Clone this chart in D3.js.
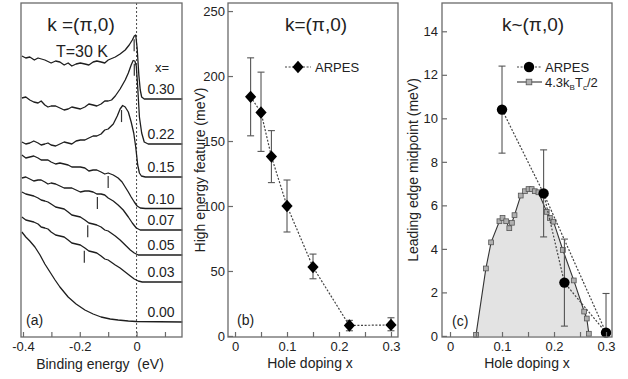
<!DOCTYPE html>
<html><head><meta charset="utf-8">
<script src="https://cdn.jsdelivr.net/npm/d3@7"></script>
<style>
body{margin:0;background:#fff;}
svg{display:block;font-family:"Liberation Sans",Arial,sans-serif;}
text{fill:#222;}
</style></head>
<body><svg id="c" width="628" height="379"></svg>
<script>
// ---------- Panel (a): EDC spectra, [binding energy (eV), intensity (arb., offset)] ----------
const dopingLabels = ["0.30","0.22","0.15","0.10","0.07","0.05","0.03","0.00"];
const edc030 = [[-0.404,281],[-0.39,279],[-0.376,280],[-0.36,277],[-0.347,279],[-0.323,277],[-0.301,274],[-0.285,276],[-0.270,275],[-0.255,272],[-0.241,274],[-0.228,271],[-0.213,273],[-0.198,274],[-0.182,273],[-0.168,272],[-0.153,275],[-0.140,276],[-0.125,275],[-0.112,274],[-0.100,277],[-0.075,280],[-0.058,283],[-0.040,287],[-0.026,292],[-0.015,297],[-0.008,301],[-0.003,302],[0.002,289],[0.008,262],[0.013,247],[0.018,240],[0.027,238],[0.161,238]];
const edc022 = [[-0.404,239],[-0.39,240],[-0.376,237],[-0.362,235],[-0.347,234],[-0.336,236],[-0.323,232],[-0.312,230],[-0.301,231],[-0.285,231],[-0.270,229],[-0.255,227],[-0.241,228],[-0.228,230],[-0.213,229],[-0.198,228],[-0.182,230],[-0.168,233],[-0.153,232],[-0.140,231],[-0.125,233],[-0.112,236],[-0.100,236],[-0.088,237],[-0.075,241],[-0.058,248],[-0.040,257],[-0.029,264],[-0.019,272],[-0.012,276.5],[-0.006,276],[-0.001,271],[0.004,250],[0.010,220],[0.018,204],[0.027,195],[0.041,193],[0.161,193]];
const edc015 = [[-0.404,195],[-0.39,193],[-0.376,194],[-0.362,196],[-0.347,194],[-0.336,192],[-0.323,193],[-0.312,194],[-0.301,192],[-0.285,191],[-0.270,193],[-0.255,195],[-0.241,194],[-0.228,193],[-0.213,196],[-0.198,197],[-0.182,197],[-0.168,199],[-0.153,201],[-0.140,201],[-0.125,203],[-0.112,207],[-0.100,208],[-0.082,213],[-0.068,221],[-0.058,228],[-0.049,231.5],[-0.040,230],[-0.029,225],[-0.019,215],[-0.010,204],[-0.003,190],[0.004,172],[0.010,164],[0.017,161],[0.031,160],[0.161,160]];
const edc010 = [[-0.404,182],[-0.39,179],[-0.376,180],[-0.362,181],[-0.347,179],[-0.336,177],[-0.323,177],[-0.312,177],[-0.301,175],[-0.285,173],[-0.270,174],[-0.255,173],[-0.241,172],[-0.228,170],[-0.213,170],[-0.198,170],[-0.182,169],[-0.168,166],[-0.153,167],[-0.140,167],[-0.125,165],[-0.112,163],[-0.100,164],[-0.082,162],[-0.065,159],[-0.051,155],[-0.040,150],[-0.029,145],[-0.019,140],[-0.008,135],[0.002,131],[0.013,129],[0.031,128.5],[0.161,128.5]];
const edc007 = [[-0.404,159],[-0.39,160],[-0.376,158],[-0.362,156],[-0.347,157],[-0.336,157],[-0.323,155],[-0.312,153],[-0.301,154],[-0.285,153],[-0.270,151],[-0.255,149],[-0.241,149],[-0.228,149],[-0.213,147],[-0.198,145],[-0.182,146],[-0.168,146],[-0.153,145],[-0.140,143],[-0.125,143],[-0.112,142],[-0.100,139],[-0.082,136],[-0.065,132],[-0.047,127],[-0.029,120],[-0.015,114],[-0.001,109],[0.013,107],[0.161,107]];
const edc005 = [[-0.404,145],[-0.39,143],[-0.376,142],[-0.362,141],[-0.347,139],[-0.336,137],[-0.323,136],[-0.312,135],[-0.301,133],[-0.285,130],[-0.270,129],[-0.255,128],[-0.241,125],[-0.228,122],[-0.213,121],[-0.198,120],[-0.182,117],[-0.168,114],[-0.153,113],[-0.140,112],[-0.125,110],[-0.112,107],[-0.100,106],[-0.075,101],[-0.058,97],[-0.040,92],[-0.022,87],[-0.008,84],[0.006,82],[0.161,82]];
const edc003 = [[-0.404,120],[-0.39,117],[-0.376,116],[-0.362,115],[-0.347,113],[-0.336,110],[-0.323,109],[-0.312,108],[-0.301,105],[-0.285,102],[-0.270,101],[-0.255,100],[-0.241,97],[-0.228,94],[-0.213,93],[-0.198,92],[-0.182,89],[-0.168,86],[-0.153,85],[-0.140,84],[-0.125,81],[-0.112,78],[-0.100,77],[-0.075,72],[-0.058,69],[-0.040,65],[-0.022,61],[-0.008,58],[0.006,56],[0.020,55],[0.161,55]];
const edc000 = [[-0.404,105],[-0.390,100],[-0.376,96],[-0.358,90],[-0.340,82],[-0.323,73],[-0.305,65],[-0.287,57],[-0.270,50],[-0.241,40],[-0.213,33],[-0.182,27],[-0.153,23],[-0.125,20],[-0.093,18],[-0.065,17],[-0.029,16],[-0.001,15.5],[0.161,15]];
const energyTicks = [-0.4,-0.3,-0.2,-0.1,0,0.1];
const energyTickLabels = ["-0.4","","-0.2","","0",""];

// ---------- Panel (b): high energy feature ----------
const dopingB = [0.03,0.05,0.07,0.10,0.15,0.22,0.30];
const featureB = [184,172,138,100,53,8,8.5];
const featureLoB = [154,142,118,80,44,4,4];
const featureHiB = [214,203,158,120,63,12,14];
const featureTicks = [0,50,100,150,200,250];

// ---------- Panel (c): leading edge midpoint ----------
const dopingC = [0.10,0.18,0.22,0.30];
const ledgeC = [10.4,6.55,2.45,0.15];
const ledgeLoC = [8.4,4.55,0.45,0];
const ledgeHiC = [12.4,8.55,4.45,1.95];
const tcX = [0.050,0.069,0.079,0.095,0.101,0.108,0.114,0.119,0.124,0.136,0.144,0.151,0.157,0.163,0.170,0.186,0.192,0.199,0.217,0.238,0.258,0.263,0.267];
const tcY = [0.05,3.1,4.3,5.27,5.42,5.27,4.95,5.2,5.55,6.45,6.65,6.75,6.75,6.65,6.6,5.7,5.42,5.25,3.95,2.55,1.12,0.8,0.1];
const ledgeTicks = [0,2,4,6,8,10,12,14];
const dopingTicks = [0,0.05,0.1,0.15,0.2,0.25,0.3];

const svg = d3.select("#c");
const frameColor = "#6a6a6a";
const fmtDop = d => (Math.abs(d*10 - Math.round(d*10)) < 1e-6) ? (d===0 ? "0" : d3.format(".1f")(d)) : "";

function frame(x,y,w,h){
  svg.append("rect").attr("x",x).attr("y",y).attr("width",w).attr("height",h)
    .attr("fill","none").attr("stroke",frameColor).attr("stroke-width",1.3);
}
function styleAxis(g){
  g.select(".domain").remove();
  g.selectAll(".tick line").attr("stroke",frameColor).attr("stroke-width",1.2);
  g.selectAll(".tick text").attr("font-size",13).attr("fill","#222")
   .attr("font-family","Liberation Sans, Arial, sans-serif");
}

// ================= Panel (a) =================
const xA = d3.scaleLinear().domain([-0.407,0.16]).range([21,182]);
const yA = d3.scaleLinear().domain([0,334]).range([337,3]);
svg.append("line").attr("x1",xA(0)).attr("x2",xA(0)).attr("y1",3).attr("y2",337)
  .attr("stroke","#333").attr("stroke-width",0.9).attr("stroke-dasharray","2,2");
const curves = [edc030,edc022,edc015,edc010,edc007,edc005,edc003,edc000];
const lineA = d3.line().x(d=>xA(d[0])).y(d=>yA(d[1]));
svg.append("g").selectAll("path").data(curves).join("path")
  .attr("d",lineA).attr("fill","none").attr("stroke","#1e1e1e").attr("stroke-width",1.3)
  .attr("stroke-linejoin","round");
function interp(curve,e){
  for(let i=0;i<curve.length-1;i++){
    const a=curve[i],b=curve[i+1];
    if(e>=a[0]&&e<=b[0]){const t=(e-a[0])/(b[0]-a[0]);return a[1]+t*(b[1]-a[1]);}
  }
  return curve[curve.length-1][1];
}
dopingB.forEach((dp,i)=>{
  const idx = dopingLabels.indexOf(d3.format(".2f")(dp));
  if(idx<0) return;
  const e = -featureB[i]/1000;
  const yc = yA(interp(curves[idx],e));
  svg.append("line").attr("x1",xA(e)).attr("x2",xA(e)).attr("y1",yc+3).attr("y2",yc+15)
    .attr("stroke","#333").attr("stroke-width",1.2);
});
const labelBase = curves.map(c=>yA(c[c.length-1][1]));
svg.append("g").selectAll("text").data(dopingLabels).join("text")
  .attr("x",161).attr("y",(d,i)=>labelBase[i]-5).attr("text-anchor","middle")
  .attr("font-size",14).text(d=>d);
svg.append("text").attr("x",162).attr("y",72).attr("text-anchor","middle").attr("font-size",13).text("x=");
svg.append("text").attr("x",81).attr("y",31).attr("text-anchor","middle").attr("font-size",19).text("k =(π,0)");
svg.append("text").attr("x",82).attr("y",57).attr("text-anchor","middle").attr("font-size",16).text("T=30 K");
svg.append("text").attr("x",26).attr("y",325).attr("font-size",14).text("(a)");
const axA = svg.append("g").attr("transform","translate(0,337)")
  .call(d3.axisBottom(xA).tickValues(energyTicks).tickSizeInner(-5).tickSizeOuter(0).tickPadding(5)
    .tickFormat((d,i)=>energyTickLabels[i]));
styleAxis(axA);
svg.append("text").attr("x",100).attr("y",369).attr("text-anchor","middle").attr("font-size",14)
  .attr("xml:space","preserve").text("Binding energy  (eV)");
frame(21,3,161,334);

// ================= Panel (b) =================
const xB = d3.scaleLinear().domain([-0.0135,0.3135]).range([228,398]);
const yB = d3.scaleLinear().domain([-0.8,256.2]).range([337,3]);
const gB = svg.append("g");
gB.append("path").datum(dopingB.map((d,i)=>[d,featureB[i]]))
  .attr("d",d3.line().x(d=>xB(d[0])).y(d=>yB(d[1])))
  .attr("fill","none").attr("stroke","#444").attr("stroke-width",1.2).attr("stroke-dasharray","2,1.6");
dopingB.forEach((d,i)=>{
  const x=xB(d);
  gB.append("line").attr("x1",x).attr("x2",x).attr("y1",yB(featureLoB[i])).attr("y2",yB(featureHiB[i])).attr("stroke","#555").attr("stroke-width",1.1);
  [featureLoB[i],featureHiB[i]].forEach(v=>gB.append("line").attr("x1",x-3.5).attr("x2",x+3.5).attr("y1",yB(v)).attr("y2",yB(v)).attr("stroke","#555").attr("stroke-width",1.1));
});
const diamond = "M0,-6.2L5.6,0L0,6.2L-5.6,0Z";
gB.selectAll("path.dm").data(dopingB).join("path").attr("class","dm")
  .attr("d",diamond).attr("transform",(d,i)=>`translate(${xB(d)},${yB(featureB[i])})`).attr("fill","#000");
gB.append("line").attr("x1",285).attr("x2",311).attr("y1",67).attr("y2",67).attr("stroke","#444").attr("stroke-width",1.2).attr("stroke-dasharray","2,1.6");
gB.append("path").attr("d",diamond).attr("transform","translate(298,67)").attr("fill","#000");
gB.append("text").attr("x",315).attr("y",72).attr("font-size",13).text("ARPES");
gB.append("text").attr("x",316).attr("y",31).attr("text-anchor","middle").attr("font-size",19).text("k=(π,0)");
gB.append("text").attr("x",237).attr("y",325).attr("font-size",14).text("(b)");
const axBx = svg.append("g").attr("transform","translate(0,337)")
  .call(d3.axisBottom(xB).tickValues(dopingTicks).tickSizeInner(-5).tickSizeOuter(0).tickPadding(5).tickFormat(fmtDop));
styleAxis(axBx);
const axBy = svg.append("g").attr("transform","translate(228,0)")
  .call(d3.axisLeft(yB).tickValues(featureTicks).tickSizeInner(-5).tickSizeOuter(0).tickPadding(3));
styleAxis(axBy);
svg.append("text").attr("transform","translate(205,170) rotate(-90)").attr("text-anchor","middle").attr("font-size",14).text("High energy feature (meV)");
svg.append("text").attr("x",310).attr("y",368).attr("text-anchor","middle").attr("font-size",14).text("Hole doping x");
frame(228,3,170,334);

// ================= Panel (c) =================
const xC = d3.scaleLinear().domain([-0.0154,0.3115]).range([442,612]);
const yC = d3.scaleLinear().domain([-0.05,15.3]).range([337,3]);
const gC = svg.append("g");
const tcPts = tcX.map((d,i)=>[d,tcY[i]]);
gC.append("path").datum(tcPts)
  .attr("d",d3.area().x(d=>xC(d[0])).y0(yC(0)).y1(d=>yC(d[1])))
  .attr("fill","#e3e3e3");
gC.append("path").datum(tcPts)
  .attr("d",d3.line().x(d=>xC(d[0])).y(d=>yC(d[1])))
  .attr("fill","none").attr("stroke","#333").attr("stroke-width",1.1);
gC.selectAll("rect.sq").data(tcPts).join("rect").attr("class","sq")
  .attr("x",d=>xC(d[0])-2.4).attr("y",d=>yC(d[1])-2.4).attr("width",4.8).attr("height",4.8)
  .attr("fill","#b0b0b0").attr("stroke","#555").attr("stroke-width",0.8);
const arpC = dopingC.map((d,i)=>[d,ledgeC[i]]);
gC.append("path").datum(arpC)
  .attr("d",d3.line().x(d=>xC(d[0])).y(d=>yC(d[1])))
  .attr("fill","none").attr("stroke","#444").attr("stroke-width",1.2).attr("stroke-dasharray","2,1.6");
gC.append("path").datum([arpC[1],arpC[3]])
  .attr("d",d3.line().x(d=>xC(d[0])).y(d=>yC(d[1])))
  .attr("fill","none").attr("stroke","#444").attr("stroke-width",1.2).attr("stroke-dasharray","2,1.6");
dopingC.forEach((d,i)=>{
  const x=xC(d);
  gC.append("line").attr("x1",x).attr("x2",x).attr("y1",yC(ledgeLoC[i])).attr("y2",yC(ledgeHiC[i])).attr("stroke","#555").attr("stroke-width",1.1);
  [ledgeLoC[i],ledgeHiC[i]].forEach(v=>gC.append("line").attr("x1",x-3.5).attr("x2",x+3.5).attr("y1",yC(v)).attr("y2",yC(v)).attr("stroke","#555").attr("stroke-width",1.1));
});
gC.selectAll("circle.ap").data(arpC).join("circle").attr("class","ap")
  .attr("cx",d=>xC(d[0])).attr("cy",d=>yC(d[1])).attr("r",5.2).attr("fill","#000");
gC.append("line").attr("x1",517).attr("x2",542).attr("y1",67).attr("y2",67).attr("stroke","#444").attr("stroke-width",1.2).attr("stroke-dasharray","2,1.6");
gC.append("circle").attr("cx",529).attr("cy",67).attr("r",5.2).attr("fill","#000");
gC.append("text").attr("x",545).attr("y",72).attr("font-size",13).text("ARPES");
gC.append("line").attr("x1",517).attr("x2",542).attr("y1",82).attr("y2",82).attr("stroke","#333").attr("stroke-width",1.1);
gC.append("rect").attr("x",529-2.8).attr("y",82-2.8).attr("width",5.6).attr("height",5.6).attr("fill","#b0b0b0").attr("stroke","#555").attr("stroke-width",0.8);
const lg = gC.append("text").attr("x",545).attr("y",87).attr("font-size",13);
lg.append("tspan").text("4.3k");
lg.append("tspan").attr("font-size",8).attr("dy",3).text("B");
lg.append("tspan").attr("dy",-3).text("T");
lg.append("tspan").attr("font-size",8).attr("dy",3).text("c");
lg.append("tspan").attr("dy",-3).text("/2");
gC.append("text").attr("x",533).attr("y",31).attr("text-anchor","middle").attr("font-size",19).text("k~(π,0)");
gC.append("text").attr("x",452).attr("y",326).attr("font-size",14).text("(c)");
const axCx = svg.append("g").attr("transform","translate(0,337)")
  .call(d3.axisBottom(xC).tickValues(dopingTicks).tickSizeInner(-5).tickSizeOuter(0).tickPadding(5).tickFormat(fmtDop));
styleAxis(axCx);
const axCy = svg.append("g").attr("transform","translate(442,0)")
  .call(d3.axisLeft(yC).tickValues(ledgeTicks).tickSizeInner(-5).tickSizeOuter(0).tickPadding(4));
styleAxis(axCy);
svg.append("text").attr("transform","translate(418,170) rotate(-90)").attr("text-anchor","middle").attr("font-size",14).text("Leading edge midpoint (meV)");
svg.append("text").attr("x",527).attr("y",368).attr("text-anchor","middle").attr("font-size",14).text("Hole doping x");
frame(442,3,170,334);
</script></body></html>
